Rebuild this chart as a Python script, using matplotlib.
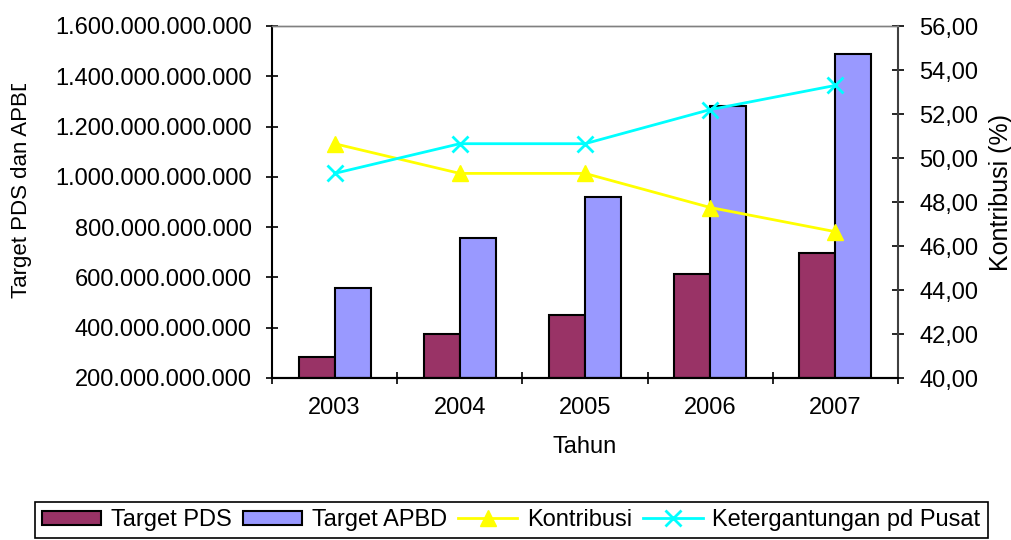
import matplotlib
matplotlib.use('Agg')
import matplotlib.pyplot as plt
from matplotlib.transforms import Bbox
import numpy as np

# data
years = ['2003', '2004', '2005', '2006', '2007']
target_pds = [285e9, 375e9, 450e9, 615e9, 697e9]
target_apbd = [557e9, 755e9, 918e9, 1282e9, 1490e9]
kontribusi = [50.65, 49.3, 49.3, 47.75, 46.65]
ketergantungan = [49.3, 50.65, 50.65, 52.2, 53.3]

left_ticks = [200e9, 400e9, 600e9, 800e9, 1000e9, 1200e9, 1400e9, 1600e9]
right_ticks = [40, 42, 44, 46, 48, 50, 52, 54, 56]

plt.rcParams['font.family'] = ['Liberation Sans', 'DejaVu Sans']
fs = 17

fig = plt.figure(figsize=(10.12, 5.4), dpi=100)
ax = fig.add_axes([272/1012, 1 - 378/540, 626/1012, 352/540])
ax2 = ax.twinx()

x = np.arange(len(years))
w = 0.287
ax.bar(x - w/2, [v - 200e9 for v in target_pds], w, bottom=200e9, color='#993366',
       edgecolor='black', linewidth=1.5, label='Target PDS', zorder=2)
ax.bar(x + w/2, [v - 200e9 for v in target_apbd], w, bottom=200e9, color='#9999FF',
       edgecolor='black', linewidth=1.5, label='Target APBD', zorder=2)

ax2.plot(x, kontribusi, color='#FFFF00', lw=2, marker='^', ms=12,
         label='Kontribusi')
ax2.plot(x, ketergantungan, color='#00FFFF', lw=2, marker='x', ms=12,
         mew=2, label='Ketergantungan pd Pusat')

ax.set_xlim(-0.5, len(years) - 0.5)
ax.set_ylim(200e9, 1600e9)
ax2.set_ylim(40, 56)

ax.set_yticks(left_ticks)
ax.set_yticklabels([f"{int(v):,}".replace(',', '.') for v in left_ticks], fontsize=fs)
ax2.set_yticks(right_ticks)
ax2.set_yticklabels([f"{v:.2f}".replace('.', ',') for v in right_ticks], fontsize=fs)

# year labels centered, ticks on category boundaries
ax.set_xticks(np.arange(len(years) + 1) - 0.5)
ax.set_xticklabels([])
ax.set_xticks(x, minor=True)
ax.set_xticklabels(years, minor=True, fontsize=fs)
ax.tick_params(axis='x', which='major', direction='inout', length=8, width=1.2)
ax.tick_params(axis='x', which='minor', length=0, pad=14)
ax.tick_params(axis='y', direction='inout', length=9, width=1.2, pad=10)
ax2.tick_params(axis='y', direction='inout', length=9, width=1.2, pad=11)

for a in (ax, ax2):
    a.spines['top'].set_color('#808080')
    a.spines['top'].set_linewidth(1)
    a.spines['left'].set_linewidth(1.5)
    a.spines['bottom'].set_linewidth(1.5)
ax.spines['right'].set_visible(False)
ax2.spines['left'].set_visible(False)
ax2.spines['right'].set_color('#404040')
ax2.spines['right'].set_linewidth(1.5)

ax.set_xlabel('Tahun', fontsize=fs, labelpad=12)

# axis titles, left one is cut off at the top like in the original
lbl = fig.text(22/1012, 1 - 187/540, 'Target PDS dan APBD', rotation=90,
               ha='center', va='center', fontsize=16)
lbl.set_clip_box(Bbox.from_extents(0, 0, 1012, 540 - 84))
lbl.set_clip_on(True)
fig.text(1001/1012, 1 - 192/540, 'Kontribusi (%)', rotation=90,
         ha='center', va='center', fontsize=18)

h1, l1 = ax.get_legend_handles_labels()
h2, l2 = ax2.get_legend_handles_labels()
leg = fig.legend(h1 + h2, l1 + l2, loc='upper center', bbox_to_anchor=(0.5054, 1 - 502/540),
                 ncol=4, fontsize=fs, frameon=True, fancybox=False, edgecolor='black',
                 handlelength=2.5, handleheight=0.55, handletextpad=0.42,
                 columnspacing=0.47, borderpad=0.3, borderaxespad=0, framealpha=1)
leg.get_frame().set_linewidth(1.2)

fig.savefig('out.png', dpi=100)
